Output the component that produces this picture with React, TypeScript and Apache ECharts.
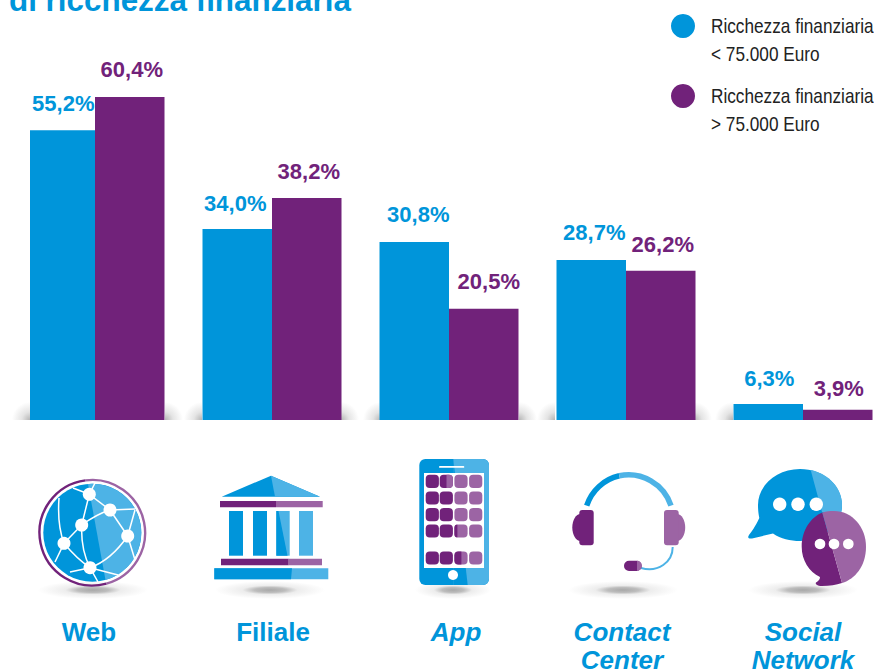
import React, { useEffect, useRef } from "react";
import * as echarts from "echarts";

const categories = ["Web", "Filiale", "App", "Contact Center", "Social Network"];
// Printed figures, shown as labels.
const lowLabels = ["55,2%", "34,0%", "30,8%", "28,7%", "6,3%"];
const highLabels = ["60,4%", "38,2%", "20,5%", "26,2%", "3,9%"];
// Drawn bar heights (the source bars are not strictly to scale with
// their printed figures), on the axis where the tallest bar equals its printed 60.4.
const lowHeights = [54.2, 35.7, 33.3, 29.9, 3.0];
const highHeights = [60.4, 41.5, 20.8, 27.9, 1.9];
const seriesNames = ["Ricchezza finanziaria < 75.000 Euro", "Ricchezza finanziaria > 75.000 Euro"];
const legendLines = [["Ricchezza finanziaria", "< 75.000 Euro"], ["Ricchezza finanziaria", "> 75.000 Euro"]];
const titleText = "di ricchezza finanziaria";

// Layout only: small nudges of the value labels.
const lowLabelNudge = [[3, -1], [-2, 0], [4, -1], [3, -2], [1, 1]];
const highLabelNudge = [[2, -2], [2, -1], [5, -1], [2, 0], [1, 5]];

const BLUE = "#0095DA";
const LBLUE = "#4DB3E6";
const PURPLE = "#71227A";
const LPURPLE = "#9C64A4";

const shapes: Record<string, string> = {
  globeLight: "M88 484 A49 49 0 0 1 105.5 580 Z",
  bubbleBig:
    "M759.3 518 C755 527 752 531 749 535 C747 538 749 539 752 538.5 L773 533.5 C781 539 790 541 800 541 C823 541 842 525 842 505 C842 485 823 469 800 469 C777 469 758 485 758 505 C758 510 758.5 514 759.3 518 Z",
  bubbleBigLight: "M810.7 470 C829 474 842 488 842 505 C842 510 841 513 840 516 L822 512 Z",
  bubbleSmallDark:
    "M822.3 512.5 C811 517 801.7 530 801.7 546.7 C801.7 560 809 572 820 577 C820 580 818 581 816 582.5 C815 584 817 586 822 586 C830 586 836 585 842 583 Z",
  bubbleSmallLight:
    "M822.3 512.5 C826 511 830 511 834 511 C852 511 866 527 866 546.7 C866 566 855 579 842 583 Z",
  globeLines:
    "M89.3 494.3 L110 510 M110 510 C100 513 90 519 81.7 525 M81.7 525 L64 543.3 M89.3 494.3 L81.7 525 M81.7 525 C81 542 84 556 90 567.7 M64 543.3 C72 553 80 561 90 567.7 M90 567.7 C106 562 118 550 127.7 536 M110 510 L127.7 536 M127.7 536 L135 510 M110 510 L135 509 M64 543.3 C59 530 58 512 59 498 M64 543.3 L55 562 M90 567.7 L70 572 M90 567.7 L118 575 M90 567.7 L98 582 M89.3 494.3 L73 488 M89.3 494.3 L95 483 M127.7 536 L135 560",
  headsetLeft: "M586.7 505.7 A44.7 44.7 0 0 1 619.3 475.8",
  headsetRight: "M619.3 475.8 A44.7 44.7 0 0 1 671 505.7",
  boom: "M672.7 547 C672.7 562 658 573 641 568",
};
Object.entries(shapes).forEach(([name, d]) => {
  echarts.graphic.registerShape(name, echarts.graphic.extendPath(d, {}) as any);
});

const fill = (type: string, color: string) => ({ type, style: { fill: color } });
const circle = (cx: number, cy: number, r: number, color: string) => ({
  type: "circle", shape: { cx, cy, r }, style: { fill: color },
});
const box = (x: number, y: number, width: number, height: number, color: string, r: any = 0) => ({
  type: "rect", shape: { x, y, width, height, r }, style: { fill: color },
});
const poly = (points: number[][], color: string) => ({
  type: "polygon", shape: { points }, style: { fill: color },
});
const stroked = (type: string, color: string, lineWidth: number) => ({
  type, style: { fill: "none", stroke: color, lineWidth, lineCap: "butt" },
});
const floorShadow = (cx: number, rx: number) => ({
  type: "ellipse",
  shape: { cx, cy: 590, rx, ry: 9 },
  style: {
    fill: {
      type: "radial", x: 0.5, y: 0.5, r: 0.5,
      colorStops: [
        { offset: 0, color: "#a8a8a8" },
        { offset: 0.28, color: "#bdbdbd" },
        { offset: 0.5, color: "#ededed" },
        { offset: 1, color: "#ffffff" },
      ],
    },
  },
});
const barShadow = (x: number, side: "l" | "r", z: number) => ({
  type: "rect",
  z,
  shape: { x: side === "l" ? x - 18 : x, y: 402, width: 18, height: 18 },
  style: {
    fill: {
      type: "radial", x: side === "l" ? 1 : 0, y: 1, r: 1,
      colorStops: [
        { offset: 0, color: "#b5b5b5" },
        { offset: 0.45, color: "#e4e4e4" },
        { offset: 1, color: "#ffffff" },
      ],
    },
  },
});

const tileCols = [432.3, 446.3, 461, 475.7];
const tileRows = [481.3, 498, 514.7, 531, 558];
const tiles: any[] = [];
tileRows.forEach((cy) =>
  tileCols.forEach((cx, c) =>
    tiles.push(box(cx - 6.6, cy - 6.6, 13.2, 13.2, c < 2 ? PURPLE : LPURPLE, 4))
  )
);
const tileEdits = [
  box(446.5, 474.7, 6.4, 13.2, LPURPLE, [0, 4, 4, 0]),
  box(454.4, 524.4, 3, 13.2, PURPLE, [4, 0, 0, 4]),
  box(454.4, 551.4, 7, 13.2, PURPLE, [4, 0, 0, 4]),
];

const icons: any[] = [
  // shadows
  floorShadow(93, 55), floorShadow(270, 55), floorShadow(453, 38), floorShadow(623, 55), floorShadow(803, 55),
  // globe
  circle(92.3, 532.7, 49, BLUE),
  fill("globeLight", LBLUE),
  { type: "arc", shape: { cx: 92.3, cy: 532.7, r: 52.8, startAngle: -1.7, endAngle: 1.3, clockwise: true }, style: { fill: "none", stroke: LPURPLE, lineWidth: 2.4 } },
  { type: "arc", shape: { cx: 92.3, cy: 532.7, r: 52.8, startAngle: 1.3, endAngle: 4.583, clockwise: true }, style: { fill: "none", stroke: PURPLE, lineWidth: 2.4 } },
  stroked("globeLines", "#ffffff", 1.5),
  circle(89.3, 494.3, 6.5, "#fff"), circle(110, 510, 6.5, "#fff"), circle(81.7, 525, 6.5, "#fff"),
  circle(127.7, 536, 6.5, "#fff"), circle(64, 543.3, 6.5, "#fff"), circle(90, 567.7, 6.5, "#fff"),
  // bank
  poly([[271, 475.7], [221.7, 496.7], [320, 496.7]], BLUE),
  poly([[271, 475.7], [275, 496.7], [320, 496.7]], LBLUE),
  box(220, 501, 56, 6.3, PURPLE), box(276, 501, 46.7, 6.3, LPURPLE),
  box(229, 511, 14, 44.7, BLUE), box(253, 511, 14, 44.7, BLUE),
  box(276.3, 511, 13.4, 44.7, LBLUE),
  poly([[276.3, 511], [278.5, 511], [287.5, 555.7], [276.3, 555.7]], BLUE),
  box(299, 511, 14, 44.7, LBLUE),
  box(221, 558.7, 67.7, 6.6, PURPLE), box(288.7, 558.7, 33.3, 6.6, LPURPLE),
  box(214.3, 568.3, 114, 11, LBLUE),
  poly([[214.3, 568.3], [292, 568.3], [291, 579.3], [214.3, 579.3]], BLUE),
  // phone
  box(419.3, 459, 69.7, 126, BLUE, 6),
  { type: "rect", shape: { x: 453.3, y: 459, width: 35.7, height: 126, r: [0, 6, 6, 0] }, style: { fill: LBLUE } },
  poly([[453.3, 459], [467.7, 585], [453.3, 585]], BLUE),
  box(424, 473, 60, 95, "#ffffff"),
  box(439, 466, 25.3, 1.8, "#ffffff", 1),
  circle(453, 575, 5, "#ffffff"),
  ...tiles,
  ...tileEdits,
  // headset
  stroked("headsetLeft", BLUE, 5.5), stroked("headsetRight", LBLUE, 5.5),
  { type: "ellipse", shape: { cx: 580.5, cy: 527.5, rx: 8.2, ry: 13.5 }, style: { fill: PURPLE } },
  box(579.3, 510, 14.4, 35.3, PURPLE, 3),
  { type: "ellipse", shape: { cx: 677, cy: 527.5, rx: 8.2, ry: 13.5 }, style: { fill: LPURPLE } },
  box(664, 510, 14.7, 35.3, LPURPLE, 3),
  stroked("boom", LBLUE, 2),
  box(624, 560.7, 17.7, 10.3, PURPLE, 5),
  box(637, 560.7, 4.7, 10.3, LPURPLE, [0, 5, 5, 0]),
  // chat bubbles
  fill("bubbleBig", BLUE), fill("bubbleBigLight", LBLUE),
  circle(779.7, 504.3, 6.7, "#fff"), circle(798, 504.3, 6.7, "#fff"), circle(816.3, 504.3, 6.7, "#fff"),
  fill("bubbleSmallDark", PURPLE), fill("bubbleSmallLight", LPURPLE),
  circle(820, 544, 5.3, "#fff"), circle(834, 544, 5.3, "#fff"), circle(848.3, 544, 5.3, "#fff"),
];

const barShadows = [
  barShadow(30, "l", 10), barShadow(165, "r", 1), barShadow(202, "l", 1), barShadow(341, "r", 1),
  barShadow(381, "l", 1), barShadow(519, "r", 1), barShadow(555, "l", 1), barShadow(694, "r", 1), barShadow(733, "l", 1),
];

const legendTexts: any[] = [];
legendLines.forEach((lines, s) =>
  lines.forEach((text, l) =>
    legendTexts.push({
      type: "text", x: 711, y: 26 + s * 70 + l * 28, scaleX: 0.82,
      style: {
        text, fill: "#222222", font: '21px "Liberation Sans"', textVerticalAlign: "middle", verticalAlign: "middle",
      },
    })
  )
);

const labelStyle = (color: string, labels: string[]) => ({
  show: true,
  position: "top" as const,
  distance: 15,
  color,
  fontFamily: "Liberation Sans",
  fontWeight: "bold" as const,
  fontSize: 22,
  formatter: (p: any) => labels[p.dataIndex],
});

const catStyle = (fontStyle: string, padding: number[]) => ({
  fontFamily: "Liberation Sans", fontWeight: "bold", fontSize: 26, fontStyle, color: BLUE, lineHeight: 28, padding,
});

export default function App() {
  const ref = useRef<HTMLDivElement>(null);
  useEffect(() => {
    const chart = echarts.init(ref.current!, undefined, { renderer: "svg" });
    chart.setOption({
      animation: false,
      backgroundColor: "#ffffff",
      title: {
        text: titleText, left: 9, top: -15, padding: 0,
        textStyle: { color: BLUE, fontFamily: "Liberation Sans", fontWeight: "bold", fontSize: 31.4 },
      },
      legend: {
        orient: "vertical", left: 671, top: 14, itemWidth: 24, itemHeight: 24, itemGap: 46, padding: 0,
        icon: "circle",
        formatter: () => "",
      },
      grid: { left: 6.5, width: 885, top: 97, height: 323, containLabel: false, outerBoundsMode: "none" },
      xAxis: {
        type: "category",
        data: categories,
        axisLine: { show: false },
        axisTick: { show: false },
        axisLabel: {
          interval: 0,
          margin: 198,
          formatter: (v: string) => {
            const i = categories.indexOf(v);
            const key = ["web", "fil", "app", "con", "soc"][i];
            return v.split(" ").map((w) => `{${key}|${w}}`).join("\n");
          },
          rich: {
            web: catStyle("normal", [0, 12, 0, 0]),
            fil: catStyle("normal", [0, 0, 0, 2]),
            app: catStyle("italic", [0, 0, 0, 14]),
            con: catStyle("italic", [0, 8, 0, 0]),
            soc: catStyle("italic", [0, 0, 0, 0]),
          },
        },
      },
      yAxis: { type: "value", min: 0, max: 60.4, show: false },
      series: [
        {
          name: seriesNames[0], type: "bar", barWidth: 69.5, barGap: 0, z: 2,
          data: lowHeights.map((value, i) => ({ value, label: { offset: lowLabelNudge[i] } })),
          itemStyle: { color: BLUE }, label: labelStyle(BLUE, lowLabels),
        },
        {
          name: seriesNames[1], type: "bar", barWidth: 69.5, barGap: 0, z: 2,
          data: highHeights.map((value, i) => ({ value, label: { offset: highLabelNudge[i] } })),
          itemStyle: { color: PURPLE }, label: labelStyle(PURPLE, highLabels),
        },
      ],
      graphic: { elements: [box(20, 120, 10, 300, "#ffffff"), ...barShadows, ...icons, ...legendTexts].map((e: any) => ({ z: 10, ...e })) },
    });
    return () => chart.dispose();
  }, []);
  return <div ref={ref} style={{ position: "absolute", left: 0, top: 0, width: 874, height: 670 }} />;
}
